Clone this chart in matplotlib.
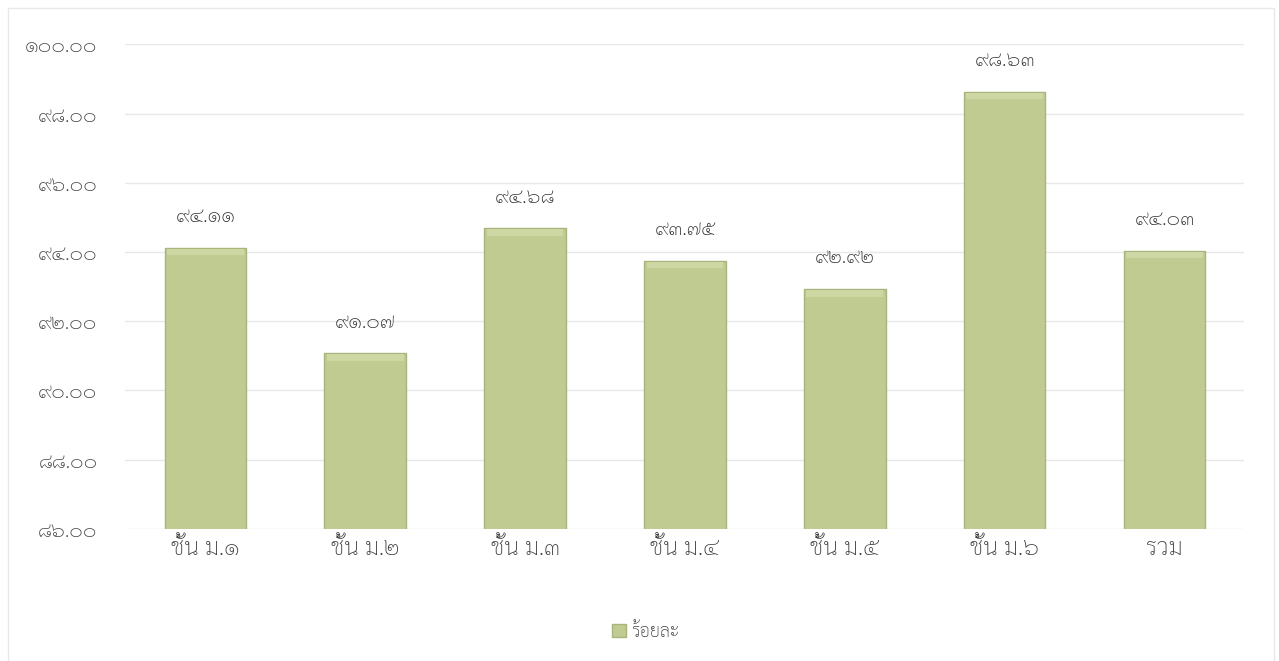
import matplotlib
matplotlib.use("Agg")
import matplotlib.pyplot as plt
from matplotlib.ticker import FuncFormatter, MultipleLocator
from matplotlib.patches import Rectangle

# ข้อมูล
categories = ["ชั้น ม.๑", "ชั้น ม.๒", "ชั้น ม.๓", "ชั้น ม.๔", "ชั้น ม.๕", "ชั้น ม.๖", "รวม"]
percent = [94.11, 91.07, 94.68, 93.75, 92.92, 98.63, 94.03]
series_name = "ร้อยละ"
y_min, y_max, y_step = 86, 100, 2

THAI_DIGITS = str.maketrans("0123456789", "๐๑๒๓๔๕๖๗๘๙")

def thai_num(v):
    return ("%.2f" % v).translate(THAI_DIGITS)

FONT = ["Sarabun", "DejaVu Sans"]
plt.rcParams["font.family"] = FONT

fig = plt.figure(figsize=(12.79, 6.61), dpi=100)
ax = fig.add_axes([0.098, 0.2, 0.875, 0.733])

bar_color = "#bfcb91"
edge_color = "#a8b47c"
ax.bar(range(len(categories)), percent, width=0.51, bottom=0,
       color=bar_color, edgecolor=edge_color, linewidth=1.0, zorder=3,
       label=series_name)

# ไฮไลต์ด้านบนของแท่ง
for i, v in enumerate(percent):
    ax.bar(i, 0.18, width=0.48, bottom=v - 0.21, color="#ccd7a3",
           linewidth=0, zorder=4)

ax.set_ylim(y_min, y_max)
ax.set_xlim(-0.5, len(categories) - 0.5)
ax.yaxis.set_major_locator(MultipleLocator(y_step))
ax.yaxis.set_major_formatter(FuncFormatter(lambda v, p: thai_num(v)))
ax.grid(axis="y", color="#e8e8e8", linewidth=1.0, zorder=0)
ax.set_axisbelow(True)

ax.set_xticks(range(len(categories)))
ax.set_xticklabels(categories, fontsize=17, fontweight="light", color="#404040")
ax.tick_params(axis="x", length=0, pad=6)
ax.tick_params(axis="y", length=0, pad=20, labelsize=15, labelcolor="#404040")
for lbl in ax.get_yticklabels():
    lbl.set_fontweight("light")
for s in ax.spines.values():
    s.set_visible(False)

# ค่าบนแท่ง
for i, v in enumerate(percent):
    ax.annotate(thai_num(v), (i, v), xytext=(0, 15), textcoords="offset points",
                ha="center", va="bottom", fontsize=15, fontweight="light",
                color="#303030")

fig.legend(handles=[Rectangle((0, 0), 1, 1, facecolor=bar_color, edgecolor=edge_color)],
           labels=[series_name], loc="center", bbox_to_anchor=(0.505, 0.044),
           frameon=False, prop={"size": 13, "weight": "light"}, handlelength=0.8,
           handleheight=0.8, handletextpad=0.3, labelcolor="#404040")

# กรอบแผนภูมิ
fig.patches.append(Rectangle((0.006, -0.01), 0.99, 0.998, transform=fig.transFigure,
                             fill=False, edgecolor="#e8e8e8", linewidth=1.0))

fig.savefig("out.png", dpi=100)
